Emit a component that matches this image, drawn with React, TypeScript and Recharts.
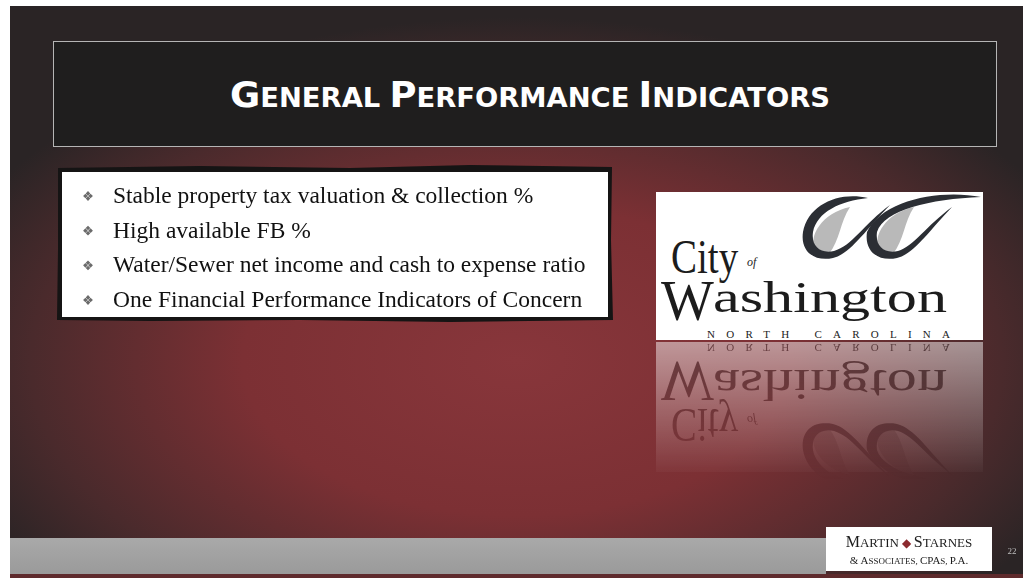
import React from 'react'
import { ComposedChart, XAxis, YAxis, Customized } from 'recharts'

// slide text content
const titleWords = ['General', 'Performance', 'Indicators']
const bullets = [
  'Stable property tax valuation & collection %',
  'High available FB %',
  'Water/Sewer net income and cash to expense ratio',
  'One Financial Performance Indicators of Concern',
]
const logoCity = 'City'
const logoOf = 'of'
const logoName = 'Washington'
const logoState = 'NORTH CAROLINA'
const footerFirm = ['Martin', 'Starnes']
const pageNumber = '22'

const rows = bullets.map((text) => ({ text, v: 0 }))

const SERIF = '"Liberation Serif", "Times New Roman", serif'
const SANS = '"DejaVu Sans", Tahoma, sans-serif'

// small caps by hand: first letter big, the rest smaller
function SmallCaps({ word, big, small }: { word: string; big: number; small: number }) {
  return (
    <>
      <tspan fontSize={big}>{word[0].toUpperCase()}</tspan>
      <tspan fontSize={small}>{word.slice(1).toUpperCase()}</tspan>
    </>
  )
}

// the two ribbon loops of the city logo
function Swoosh() {
  const dark = '#2b2e34'
  return (
    <g>
      <path d="M815 251 C808 236, 822 213, 850 207 C840 222, 840 240, 829 254 Z" fill="#b9b9b9" />
      <path d="M879 251 C872 236, 886 213, 914 207 C904 222, 904 240, 893 254 Z" fill="#b9b9b9" />
      <path
        d="M868 198 C840 191, 808 204, 803 232 C800 252, 815 262, 833 258 C850 254, 864 232, 890 205
           C864 224, 852 246, 834 251 C820 254, 811 246, 813 232 C817 212, 840 201, 868 198 Z"
        fill={dark}
      />
      <path
        d="M981 197 C940 189, 882 200, 867 232 C864 252, 879 262, 897 258 C914 254, 928 232, 952 207
           C926 226, 914 246, 898 251 C884 254, 875 246, 877 232 C884 210, 930 199, 981 197 Z"
        fill={dark}
      />
    </g>
  )
}

function LogoContent() {
  const ink = '#1c1c1c'
  return (
    <g>
      <Swoosh />
      <text transform="translate(671 273) scale(1 1.22)" fontFamily={SERIF} fontSize={39} fill={ink}>
        {logoCity}
      </text>
      <text x={747} y={266} fontFamily={SERIF} fontStyle="italic" fontSize={12} fill={ink}>{logoOf}</text>
      <text x={661} y={320} fontFamily={SERIF} fontSize={56} fill={ink}>{logoName[0]}</text>
      <text x={713} y={312} fontFamily={SERIF} fontSize={44} fill={ink} textLength={234} lengthAdjust="spacingAndGlyphs">
        {logoName.slice(1)}
      </text>
      <text x={707} y={338} fontFamily={SERIF} fontSize={11} fill={ink} textLength={243} lengthAdjust="spacing">
        {logoState}
      </text>
    </g>
  )
}

function Slide() {
  return (
    <g>
      <defs>
        <radialGradient id="bg" cx="0.5" cy="0.62" r="0.6">
          <stop offset="0" stopColor="#88363b" />
          <stop offset="0.45" stopColor="#7c3034" />
          <stop offset="0.8" stopColor="#4a2a2c" />
          <stop offset="1" stopColor="#2a2425" />
        </radialGradient>
        <linearGradient id="band" x1="0" y1="0" x2="0" y2="1">
          <stop offset="0" stopColor="#a9a9a9" />
          <stop offset="1" stopColor="#9a9a9a" />
        </linearGradient>
        <linearGradient id="fade" x1="0" y1="0" x2="0" y2="1">
          <stop offset="0" stopColor="#fff" stopOpacity={0.5} />
          <stop offset="1" stopColor="#fff" stopOpacity={0} />
        </linearGradient>
        <mask id="reflMask" maskUnits="userSpaceOnUse" x={650} y={340} width={340} height={140}>
          <rect x={650} y={340} width={340} height={140} fill="url(#fade)" />
        </mask>
      </defs>

      {/* background */}
      <rect x={10} y={6} width={1013} height={572} fill="url(#bg)" />

      {/* title box */}
      <rect x={53.5} y={41.5} width={943} height={105} fill="#1f1e1e" stroke="#b5b5b5" strokeWidth={1} />
      <text
        x={230}
        y={107}
        fontFamily={SANS}
        fontWeight="bold"
        fill="#ffffff"
        textLength={600}
        lengthAdjust="spacingAndGlyphs"
      >
        {titleWords.map((w, i) => (
          <React.Fragment key={w}>
            {i > 0 ? <tspan fontSize={25}> </tspan> : null}
            <SmallCaps word={w} big={35} small={26} />
          </React.Fragment>
        ))}
      </text>

      {/* bullet box with rough dark edge */}
      <path
        d="M58 168 L200 166 L350 168 L470 165 L612 167 L611 240 L613 320 L450 322 L300 320 L150 321 L57 320 L58 250 Z"
        fill="#151414"
      />
      <rect x={62} y={172} width={546} height={145} fill="#ffffff" />

      {/* logo and its reflection */}
      <rect x={656} y={192} width={327} height={148} fill="#ffffff" />
      <LogoContent />
      <g mask="url(#reflMask)">
        <rect x={656} y={342} width={327} height={130} fill="#ffffff" />
        <g transform="translate(0 682) scale(1 -1)" opacity={0.8}>
          <LogoContent />
        </g>
      </g>

      {/* footer */}
      <rect x={10} y={538} width={816} height={36} fill="url(#band)" />
      <rect x={10} y={574} width={1013} height={4} fill="#5e2a2c" />
      <rect x={826} y={527} width={166} height={44} fill="#ffffff" />
      <text x={909} y={547} textAnchor="middle" fontFamily={SERIF} fill="#1c1c1c">
        <SmallCaps word={footerFirm[0]} big={16} small={13} />
        <tspan fill="#8c2a2f" fontSize={12}> ◆ </tspan>
        <SmallCaps word={footerFirm[1]} big={16} small={13} />
      </text>
      <text x={909} y={564} textAnchor="middle" fontFamily={SERIF} fill="#1c1c1c" fontSize={9}>
        <tspan fontSize={11}>&amp; A</tspan>SSOCIATES, <tspan fontSize={11}>CPA</tspan>S, <tspan fontSize={11}>P.A.</tspan>
      </text>
      <text x={1012} y={554} textAnchor="middle" fontFamily={SERIF} fontSize={9} fill="#bdbdbd">{pageNumber}</text>
    </g>
  )
}

function Diamond({ cx, cy }: { cx: number; cy: number }) {
  const s = 2.3
  const petal = (dx: number, dy: number) =>
    `M${cx + dx} ${cy + dy - s} L${cx + dx + s} ${cy + dy} L${cx + dx} ${cy + dy + s} L${cx + dx - s} ${cy + dy} Z`
  return (
    <path
      d={[petal(0, -2.6), petal(2.6, 0), petal(0, 2.6), petal(-2.6, 0)].join(' ')}
      fill="#6b6b6b"
    />
  )
}

function BulletTick(props: any) {
  const { y, payload } = props
  return (
    <g>
      <Diamond cx={88} cy={y + 1} />
      <text x={113} y={y + 8} fontFamily={SERIF} fontSize={23.5} fill="#111111" textAnchor="start">
        {payload.value}
      </text>
    </g>
  )
}

export default function App() {
  return (
    <div style={{ position: 'absolute', left: 0, top: 0 }}>
      <ComposedChart
        width={1023}
        height={580}
        layout="vertical"
        data={rows}
        margin={{ top: 195, right: 415, bottom: 281, left: 0 }}
      >
        <Customized component={Slide} />
        <XAxis type="number" dataKey="v" domain={[0, 1]} hide />
        <YAxis
          type="category"
          dataKey="text"
          width={113}
          axisLine={false}
          tickLine={false}
          tick={BulletTick}
          interval={0}
        />
      </ComposedChart>
    </div>
  )
}
